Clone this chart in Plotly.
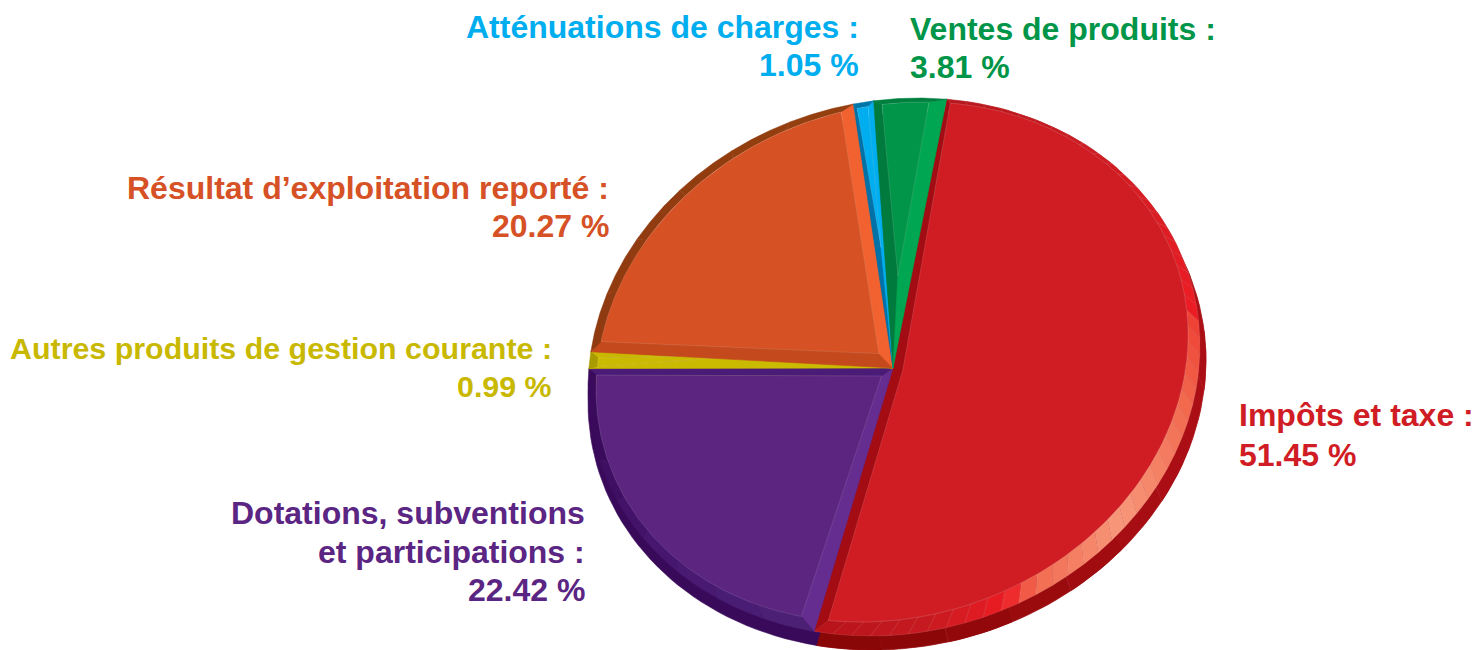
import math
import plotly.graph_objects as go

# ---- data ----
categories = ["Impôts et taxe", "Dotations, subventions<br>et participations",
              "Autres produits de gestion courante", "Résultat d’exploitation reporté",
              "Atténuations de charges", "Ventes de produits"]
values = [51.45, 22.42, 0.99, 20.27, 1.05, 3.81]

# ---- styles ----
face_colors = ["#d01c23", "#5b2580", "#cbbb00", "#d65124", "#00aeef", "#009548"]
text_colors = ["#d01c24", "#5b2583", "#c9b800", "#d65125", "#00aeef", "#009548"]
font_sizes = [32, 32, 30.4, 32, 32, 32]
bevel_start = ["#a30c12", "#662d91", "#cbbb00", "#c44a1e", "#0072a8", "#007a3d"]
bevel_end = ["#a30c12", "#4b1b78", "#c9b800", "#f26230", "#00aeef", "#00a651"]
bevel_w0 = [7, 13, 4, 13, 4, 9]
bevel_w1 = [13, 5, 4, 11, 4, 13]
seg_step = [3.5, 9, 4, 12, 4, 7]
rim_stops = [
    [(0, "#b5171d"), (30, "#cc1c22"), (74, "#ed1c24"), (76, "#ef4136"), (95, "#f26a4f"),
     (122, "#f7977a"), (143, "#f26b50"), (149, "#ed1c24"), (165, "#c61a20"), (185.5, "#b8131a")],
    [(0, "#4c2176"), (40, "#45166e"), (65, "#3a0a5c"), (81, "#3a0a5c")],
    [(0, "#a89b00"), (4, "#a89b00")],
    [(0, "#8f3a10"), (73, "#94400f")],
    [(0, "#0075a8"), (4, "#0075a8")],
    [(0, "#007f3e"), (14, "#007f3e")],
]
depth_colors = ["#a00d13", "#3a0a5a", "#7a7000", "#8c3a10", "#005f88", "#006030"]

START = 9.9
# ellipse: centre x, centre y, radius x, radius y, phase giving the tilt
OUTER = (894, 367, 306, 269, 4.5)
INNER = (892, 362, 296, 260, 6.0)
BASE = (897, 381, 309, 269, 4.5)
BASE_IN = (894, 367, 306, 269, 4.5)
APX, APY = 893, 368


def warp(t):
    """Slight perspective shift of the drawn angle on the far-left side."""
    t = t % 360
    d = t - 275
    return t - 1.7 * math.cos(math.radians(d * 1.5)) ** 2 if abs(d) < 60 else t


def pt(t, e):
    cx, cy, rx, ry, d = e
    a = warp(t)
    return cx + rx * math.sin(math.radians(a)), cy - ry * math.cos(math.radians(a - d))


def hex2rgb(c):
    return tuple(int(c[i:i + 2], 16) for i in (1, 3, 5))


def ramp(stops, x):
    for (x0, c0), (x1, c1) in zip(stops, stops[1:]):
        if x <= x1:
            f = max(0.0, (x - x0) / (x1 - x0))
            r0, r1 = hex2rgb(c0), hex2rgb(c1)
            return "rgb(%d,%d,%d)" % tuple(round(a + (b - a) * f) for a, b in zip(r0, r1))
    return stops[-1][1]


fig = go.Figure()


def poly(points, color, line=None, width=0.6, name=""):
    xs, ys = zip(*points)
    fig.add_trace(go.Scatter(
        x=list(xs) + [xs[0]], y=list(ys) + [ys[0]], mode="lines", fill="toself",
        fillcolor=color, line=dict(color=line or color, width=width),
        hoverinfo="text" if name else "skip", text=name, showlegend=False))


# slice spans from the values
total = sum(values)
spans = []
cur = START
for v in values:
    s = v / total * 360
    spans.append((cur, cur + s))
    cur += s

# extruded base
for i, (a0, a1) in enumerate(spans):
    n = max(2, int((a1 - a0) / 2))
    poly([(BASE[0], BASE[1])] + [pt(a0 + (a1 - a0) * k / n, BASE) for k in range(n + 1)], depth_colors[i])
    if i == 0:  # darker toward the front
        m = int((a1 - a0) / 12)
        for k in range(m):
            b0 = a0 + (a1 - a0) * k / m
            b1 = a0 + (a1 - a0) * (k + 1) / m
            f = max(0.0, min(1.0, (b0 + 6 - 120) / 60))
            c = ramp([(0, "#ab0f15"), (1, "#8a0707")], f)
            seg = [pt(b0 + (b1 - b0) * j / 6, BASE) for j in range(7)]
            seg += [pt(b1 - (b1 - b0) * j / 6, BASE_IN) for j in range(7)]
            poly(seg, c, line="rgba(255,255,255,0.16)" if k % 2 else c, width=0.5)

# top of the disc
for i, (a0, a1) in enumerate(spans):
    span = a1 - a0
    half = math.radians(span / 2)
    mean_w = (bevel_w0[i] + bevel_w1[i]) / 2
    dist = mean_w / math.sin(half)
    d0 = math.degrees(math.asin(bevel_w0[i] / 275))
    d1 = math.degrees(math.asin(bevel_w1[i] / 275))
    ridge = dist >= 240
    if ridge:
        d0 = d1 = span / 2
    mid = math.radians(warp(a0 + span / 2))
    if ridge:
        apex = pt(a0 + span / 2, INNER)
    else:
        apex = (APX + dist * math.sin(mid), APY - dist * math.cos(mid))
    o0, o1 = pt(a0, OUTER), pt(a1, OUTER)
    i0, i1 = pt(a0 + d0, INNER), pt(a1 - d1, INNER)

    # sloped side bevels
    poly([(APX, APY), o0, i0, apex], bevel_start[i])
    poly([(APX, APY), o1, i1, apex], bevel_end[i])

    # segmented outer rim
    seg_n = max(1, int(span / seg_step[i]))
    for k in range(seg_n):
        f0, f1 = k / seg_n, (k + 1) / seg_n
        oa = [a0 + span * (f0 + (f1 - f0) * j / 3) for j in range(4)]
        ia = [a0 + d0 + (span - d0 - d1) * (f1 - (f1 - f0) * j / 3) for j in range(4)]
        shape = [pt(t, OUTER) for t in oa] + [pt(t, INNER) for t in ia]
        c = ramp(rim_stops[i], span * (f0 + f1) / 2)
        poly(shape, c, line="rgba(255,255,255,0.18)" if i == 0 else c, width=0.5)

    # flat face
    if not ridge:
        n = max(3, int(span))
        arc = [pt(a0 + d0 + (span - d0 - d1) * k / n, INNER) for k in range(n + 1)]
        poly([apex] + arc, face_colors[i], line="rgba(255,255,255,0.22)", width=0.6,
             name=f"{categories[i]} : {values[i]:.2f} %")

# labels: one annotation per text line, (anchor x, first line y, line gap, side)
label_pos = [(1238, 415, 40, "left"), (586, 513, 38.5, "right"), (553, 348, 38, "right"),
             (610, 188, 38, "right"), (860, 27, 38, "right"), (909, 29, 38, "left")]
annotations = []
for i, (x, y, gap, side) in enumerate(label_pos):
    lines = f"{categories[i]} :".split("<br>") + [f"{values[i]:.2f} %"]
    for j, line in enumerate(lines):
        annotations.append(dict(
            x=x, y=y + j * gap, xref="x", yref="y", showarrow=False,
            xanchor=side, yanchor="middle", align=side, text=f"<b>{line}</b>",
            font=dict(family="Liberation Sans", size=font_sizes[i], color=text_colors[i]),
            borderpad=0))

fig.update_layout(
    width=1475, height=650, margin=dict(l=0, r=0, t=0, b=0),
    paper_bgcolor="white", plot_bgcolor="white", showlegend=False,
    xaxis=dict(range=[0, 1475], visible=False, fixedrange=True),
    yaxis=dict(range=[650, 0], visible=False, fixedrange=True),
    annotations=annotations,
)
fig.write_html("out.html", post_script="document.body.style.margin='0';document.documentElement.style.overflow='hidden';",
               config={"displayModeBar": False})
